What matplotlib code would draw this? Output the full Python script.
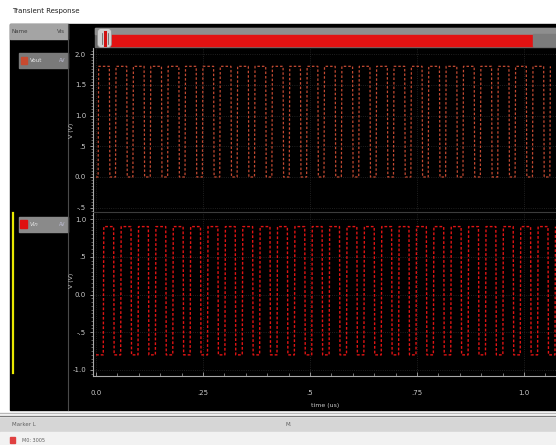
import numpy as np
import matplotlib
matplotlib.use('Agg')
import matplotlib.pyplot as plt
from matplotlib.patches import Rectangle, FancyBboxPatch
from matplotlib.ticker import MultipleLocator, FixedLocator, FixedFormatter

# pulse sources (time in us, levels in V)
t_stop = 1.075
period = 0.0406
rise = 0.0012

vout_levels = [0.0, 1.8]
vout_delay = 0.005
vout_width = 0.025

vin_levels = [-0.8, 0.9]
vin_delay = 0.017
vin_width = 0.023

# tick labels as the waveform viewer prints them
top_yticks = [2.0, 1.5, 1.0, 0.5, 0.0, -0.5]
top_ylabels = ['2.0', '1.5', '1.0', '.5', '0.0', '-.5']
bot_yticks = [1.0, 0.5, 0.0, -0.5, -1.0]
bot_ylabels = ['1.0', '.5', '0.0', '-.5', '-1.0']
xticks = [0.0, 0.25, 0.5, 0.75, 1.0]
xlabels = ['0.0', '.25', '.5', '.75', '1.0']

W, H = 556, 445


def pulse(levels, delay, width):
	# piecewise-linear PULSE source, like the spectre vpulse
	lo, hi = levels
	t = [0.0, delay]
	v = [lo, lo]
	start = delay
	while start < t_stop:
		t += [start + rise, start + rise + width, start + 2 * rise + width, start + period]
		v += [hi, hi, lo, lo]
		start += period
	t = np.array(t)
	v = np.array(v)
	keep = t <= t_stop
	return t[keep], v[keep]


def px_axes(fig, x0, y0, x1, y1):
	return fig.add_axes([x0 / W, 1 - y1 / H, (x1 - x0) / W, (y1 - y0) / H])


def style_axes(ax, ylim, yticks, ylabels):
	ax.set_facecolor('none')
	ax.set_xlim(-0.007, 1.075)
	ax.set_ylim(*ylim)
	for s in ['top', 'right', 'bottom']:
		ax.spines[s].set_visible(False)
	ax.spines['left'].set_color('#a8a8a8')
	ax.spines['left'].set_linewidth(0.8)
	ax.yaxis.set_major_locator(FixedLocator(yticks))
	ax.yaxis.set_major_formatter(FixedFormatter(ylabels))
	ax.yaxis.set_minor_locator(MultipleLocator(0.05))
	ax.tick_params(axis='y', which='major', colors='#a8a8a8', labelcolor='#c8c8c8',
		labelsize=5, length=2.5, width=0.6, pad=2.5)
	ax.tick_params(axis='y', which='minor', colors='#8a8a8a', length=1.2, width=0.5)
	ax.set_xticks(xticks)
	ax.xaxis.set_minor_locator(MultipleLocator(0.05))
	ax.grid(True, which='major', color='#2a2a2a', linestyle=':', linewidth=0.6)


def main():
	fig = plt.figure(figsize=(W / 100, H / 100), dpi=100, facecolor='white')

	# window furniture drawn in pixel coordinates
	bg = fig.add_axes([0, 0, 1, 1])
	bg.set_xlim(0, W)
	bg.set_ylim(H, 0)
	bg.axis('off')

	bg.text(12, 11, 'Transient Response', fontsize=5, color='#202020', va='center')
	bg.add_patch(Rectangle((10, 24), W - 10, 386, color='black'))

	# signal list panel
	bg.add_patch(Rectangle((10, 24), 58, 15, color='#a4a4a4'))
	bg.text(12, 31.5, 'Name', fontsize=4, color='#404040', va='center')
	bg.text(57, 31.5, 'Vis', fontsize=4, color='#404040', va='center')
	bg.plot([68, 68], [24, 410], color='#4a4a4a', lw=0.8)

	bg.add_patch(Rectangle((19, 53), 49, 15, color='#7a7a7a'))
	bg.add_patch(Rectangle((21, 57), 6, 7, color='#c84a30'))
	bg.text(30, 60.5, 'Vout', fontsize=4, color='#e8e8e8', va='center')
	bg.text(59, 60.5, 'AV', fontsize=3.5, color='#c0c0d8', va='center')

	bg.add_patch(Rectangle((19, 217), 49, 15, color='#8a8a8a'))
	bg.add_patch(Rectangle((20, 220), 7, 8, color='#e01010'))
	bg.text(30, 224.5, 'Vin', fontsize=4, color='#e8e8e8', va='center', style='italic')
	bg.text(59, 224.5, 'AV', fontsize=3.5, color='#c0c0d8', va='center')
	bg.plot([12.5, 12.5], [213, 373], color='#e8e800', lw=1.6)

	# scroll bar above the strips
	bg.add_patch(Rectangle((95, 28), W - 95, 19, color='#6a6a6a'))
	bg.add_patch(Rectangle((95, 28), W - 95, 6, color='#8e8e8e'))
	bg.add_patch(Rectangle((110, 35), 423, 11, color='#e21212'))
	bg.add_patch(Rectangle((533, 34), W - 533, 12, color='#7c7c7c'))
	bg.add_patch(FancyBboxPatch((98, 29), 13, 18, boxstyle='round,pad=0.5,rounding_size=4',
		fc='#cfcfcf', ec='#909090', lw=0.5))
	bg.plot([104.5, 104.5], [32, 45], color='#d01010', lw=2.2)
	bg.plot([101.5, 101.5], [33, 44], color='#505050', lw=0.5)
	bg.plot([107.5, 107.5], [33, 44], color='#505050', lw=0.5)

	# strip separator
	bg.plot([93, W], [212, 212], color='#3c3c3c', lw=0.8)

	# marker table at the bottom
	bg.plot([0, W], [413, 413], color='#b8b8b8', lw=1.0)
	bg.plot([0, W], [416, 416], color='#7a7a7a', lw=1.0)
	bg.add_patch(Rectangle((0, 418), W, 14, color='#d6d6d6'))
	bg.text(12, 425, 'Marker L', fontsize=4, color='#606060', va='center')
	bg.text(286, 425, 'M.', fontsize=4, color='#606060', va='center')
	bg.add_patch(Rectangle((0, 432), W, 13, color='#f2f2f2'))
	bg.add_patch(Rectangle((10, 437), 5, 6, color='#e04040'))
	bg.text(22, 440, 'M0: 3005', fontsize=3.5, color='#606060', va='center')

	# Vout strip
	ax1 = px_axes(fig, 93, 48, W, 211)
	style_axes(ax1, (-0.553, 2.098), top_yticks, top_ylabels)
	ax1.tick_params(axis='x', which='both', bottom=False, labelbottom=False)
	t, v = pulse(vout_levels, vout_delay, vout_width)
	ax1.plot(t, v, color='#c44a32', lw=0.9, linestyle=(0, (2, 1.6)))

	# Vin strip
	ax2 = px_axes(fig, 93, 213, W, 376)
	style_axes(ax2, (-1.08, 1.08), bot_yticks, bot_ylabels)
	ax2.spines['bottom'].set_visible(True)
	ax2.spines['bottom'].set_color('#a8a8a8')
	ax2.spines['bottom'].set_linewidth(0.8)
	ax2.set_xticklabels(xlabels)
	ax2.tick_params(axis='x', which='major', direction='in', colors='#a8a8a8',
		labelcolor='#c8c8c8', labelsize=5, length=3, width=0.6, pad=10)
	ax2.tick_params(axis='x', which='minor', direction='in', colors='#a8a8a8',
		length=2, width=0.5)
	t, v = pulse(vin_levels, vin_delay, vin_width)
	ax2.plot(t, v, color='#e01414', lw=1.0, linestyle=(0, (2, 1.4)))

	# axis titles
	fig.text(72 / W, 1 - 130 / H, 'V (V)', rotation=90, fontsize=4.5, color='#c8c8c8',
		ha='center', va='center')
	fig.text(72 / W, 1 - 280 / H, 'V (V)', rotation=90, fontsize=4.5, color='#c8c8c8',
		ha='center', va='center')
	fig.text(325 / W, 1 - 406 / H, 'time (us)', fontsize=4.5, color='#c8c8c8',
		ha='center', va='center')

	plt.savefig('out.png', dpi=100, facecolor='white')


if __name__ == '__main__':
	main()
